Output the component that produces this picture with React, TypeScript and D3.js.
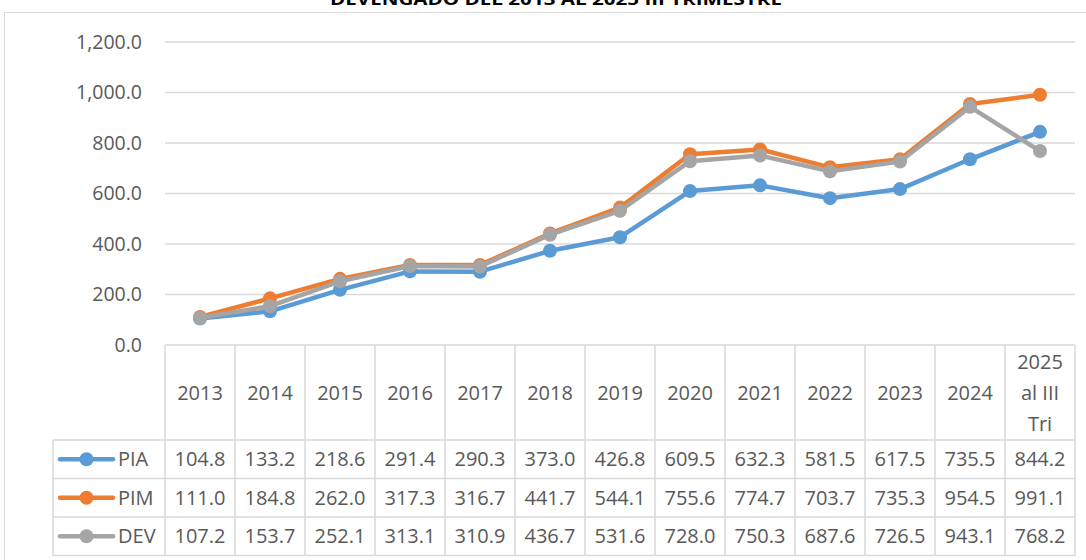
import React from 'react';
import * as d3 from 'd3';

const categories = ['2013', '2014', '2015', '2016', '2017', '2018', '2019', '2020', '2021', '2022', '2023', '2024', '2025 al III Tri'];
const pia = [104.8, 133.2, 218.6, 291.4, 290.3, 373.0, 426.8, 609.5, 632.3, 581.5, 617.5, 735.5, 844.2];
const pim = [111.0, 184.8, 262.0, 317.3, 316.7, 441.7, 544.1, 755.6, 774.7, 703.7, 735.3, 954.5, 991.1];
const dev = [107.2, 153.7, 252.1, 313.1, 310.9, 436.7, 531.6, 728.0, 750.3, 687.6, 726.5, 943.1, 768.2];
const yTicks = [0, 200, 400, 600, 800, 1000, 1200];
const title = 'DEVENGADO DEL 2013 AL 2025 III TRIMESTRE';

const series = [
  { name: 'PIA', values: pia, color: '#5B9BD5' },
  { name: 'PIM', values: pim, color: '#ED7D31' },
  { name: 'DEV', values: dev, color: '#A5A5A5' }
];

const FONT = '"Open Sans", "Noto Sans", sans-serif';
const TEXT = '#595959';
const GRID = '#D9D9D9';

export default function App() {
  const width = 1086;
  const height = 560;
  const left = 165;
  const right = 1075;

  const x = d3.scaleBand<string>().domain(categories).range([left, right]);
  const y = d3.scaleLinear().domain([0, 1200]).range([345, 42]);
  const fmt = d3.format(',.1f');

  const line = d3.line<number>()
    .x((_, i) => (x(categories[i]) as number) + x.bandwidth() / 2)
    .y(d => y(d));

  const headerTop = 345;
  const headerBottom = 440;
  const rowH = 38.5;
  const legendLeft = 53;

  return (
    <svg width={width} height={height} style={{ position: 'absolute', left: 0, top: 0, background: '#fff' }}>
      {/* chart border */}
      <rect x={4.5} y={12.5} width={1100} height={560} fill="#fff" stroke={GRID} strokeWidth={1} />
      <text x={556} y={5} textAnchor="middle" fontFamily={FONT} fontWeight="bold" fontSize={16}
        fill="#000" textLength={452} lengthAdjust="spacingAndGlyphs">{title}</text>

      {/* gridlines */}
      {yTicks.filter(t => t > 0).map(t => (
        <line key={t} x1={left} x2={right} y1={y(t)} y2={y(t)} stroke={GRID} strokeWidth={1.3} />
      ))}
      {yTicks.map(t => (
        <text key={'l' + t} x={142} y={y(t)} dy="0.35em" textAnchor="end" fontFamily={FONT} fontSize={19.5} fill={TEXT}>
          {fmt(t)}
        </text>
      ))}

      {/* table */}
      <g stroke={GRID} strokeWidth={1.5} fill="none">
        <line x1={left} x2={right} y1={headerTop} y2={headerTop} />
        {d3.range(4).map(i => (
          <line key={'h' + i} x1={legendLeft} x2={right} y1={headerBottom + i * rowH} y2={headerBottom + i * rowH} />
        ))}
        <line x1={legendLeft} x2={legendLeft} y1={headerBottom} y2={headerBottom + 3 * rowH} />
        {categories.map((c, i) => (
          <line key={'v' + i} x1={x(c)} x2={x(c)} y1={headerTop} y2={headerBottom + 3 * rowH} />
        ))}
        <line x1={right} x2={right} y1={headerTop} y2={headerBottom + 3 * rowH} />
      </g>

      {categories.map(c => {
        const cx = (x(c) as number) + x.bandwidth() / 2;
        const parts = c === '2025 al III Tri' ? ['2025', 'al III', 'Tri'] : [c];
        const lh = 31;
        const mid = (headerTop + headerBottom) / 2;
        return (
          <text key={'c' + c} textAnchor="middle" fontFamily={FONT} fontSize={20} fill={TEXT}>
            {parts.map((p, j) => (
              <tspan key={j} x={cx} y={mid + (j - (parts.length - 1) / 2) * lh} dy="0.35em">{p}</tspan>
            ))}
          </text>
        );
      })}

      {series.map((s, si) => {
        const cy = headerBottom + si * rowH + rowH / 2;
        return (
          <g key={'row' + s.name}>
            <line x1={60} x2={113} y1={cy} y2={cy} stroke={s.color} strokeWidth={4.5} strokeLinecap="round" />
            <circle cx={86.5} cy={cy} r={7} fill={s.color} />
            <text x={118} y={cy} dy="0.35em" fontFamily={FONT} fontSize={20} fill={TEXT}>{s.name}</text>
            {s.values.map((v, i) => (
              <text key={i} x={(x(categories[i]) as number) + x.bandwidth() / 2} y={cy} dy="0.35em"
                textAnchor="middle" fontFamily={FONT} fontSize={20} fill={TEXT}>{v.toFixed(1)}</text>
            ))}
          </g>
        );
      })}

      {/* series lines */}
      {series.map(s => (
        <g key={'s' + s.name}>
          <path d={line(s.values) as string} fill="none" stroke={s.color} strokeWidth={4.5} strokeLinejoin="round" strokeLinecap="round" />
          {s.values.map((v, i) => (
            <circle key={i} cx={(x(categories[i]) as number) + x.bandwidth() / 2} cy={y(v)} r={7} fill={s.color} />
          ))}
        </g>
      ))}
    </svg>
  );
}
